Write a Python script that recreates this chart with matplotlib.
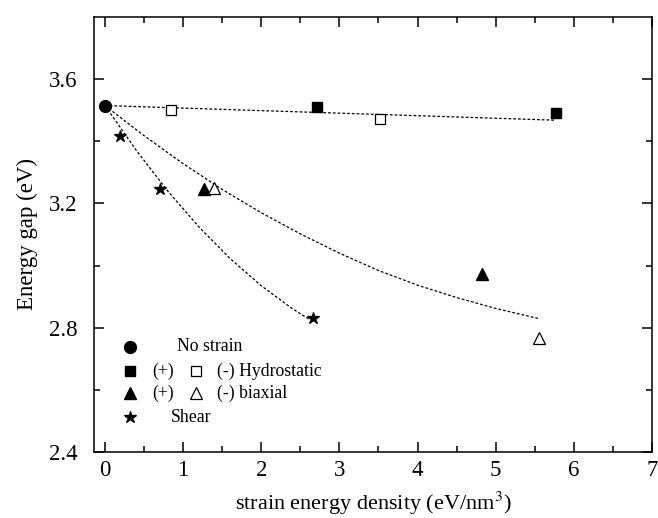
import matplotlib
matplotlib.use("Agg")
import matplotlib.pyplot as plt

plt.rcParams["font.family"] = ["Liberation Serif", "DejaVu Serif"]
plt.rcParams["mathtext.fontset"] = "stix"

# measured points (strain energy density, energy gap)
nostrain_x = [0.0]
nostrain_y = [3.515]
hydro_pos_x = [2.71, 5.77]
hydro_pos_y = [3.51, 3.49]
hydro_neg_x = [0.84, 3.52]
hydro_neg_y = [3.50, 3.471]
biax_pos_x = [1.27, 4.82]
biax_pos_y = [3.248, 2.974]
biax_neg_x = [1.39, 5.55]
biax_neg_y = [3.25, 2.768]
shear_x = [0.19, 0.70, 2.66]
shear_y = [3.416, 3.248, 2.832]

# dashed fit curves
fit_hydro_x = [0.0, 5.75]
fit_hydro_y = [3.515, 3.468]
fit_biax_x = [0.0, 0.5, 1.0, 1.5, 2.0, 2.5, 3.0, 3.5, 4.0, 4.5, 5.0, 5.54]
fit_biax_y = [3.515, 3.418, 3.328, 3.245, 3.170, 3.102, 3.040, 2.984, 2.937, 2.897, 2.862, 2.830]
fit_shear_x = [0.0, 0.4, 0.8, 1.2, 1.6, 2.0, 2.4, 2.62]
fit_shear_y = [3.515, 3.371, 3.241, 3.125, 3.023, 2.935, 2.861, 2.826]

fig = plt.figure(figsize=(6.58, 5.18), dpi=100)
ax = fig.add_axes([0.1429, 0.1274, 0.848, 0.8398])

dash = (0, (2.2, 1.6))
for fx, fy in [(fit_hydro_x, fit_hydro_y), (fit_biax_x, fit_biax_y), (fit_shear_x, fit_shear_y)]:
    ax.plot(fx, fy, color="black", lw=0.9, linestyle=dash)

ax.plot(nostrain_x, nostrain_y, "o", color="black", ms=8.5, ls="none")
ax.plot(hydro_pos_x, hydro_pos_y, "s", color="black", ms=7, ls="none")
ax.plot(hydro_neg_x, hydro_neg_y, "s", mfc="white", mec="black", mew=0.9, ms=7, ls="none")
ax.plot(biax_pos_x, biax_pos_y, "^", color="black", ms=8, ls="none")
ax.plot(biax_neg_x, biax_neg_y, "^", mfc="white", mec="black", mew=0.9, ms=8, ls="none")
ax.plot(shear_x, shear_y, "*", color="black", ms=9, ls="none")

ax.set_xlim(-0.14, 7)
ax.set_ylim(2.4, 3.8)
ax.set_xticks(range(0, 8))
ax.set_xticks([i + 0.5 for i in range(7)], minor=True)
ax.set_yticks([2.4, 2.8, 3.2, 3.6])
ax.set_yticks([2.6, 3.0, 3.4], minor=True)
ax.tick_params(which="both", direction="in", top=True, right=True, width=1.1, labelsize=16.5)
ax.tick_params(which="major", length=7)
ax.tick_params(which="minor", length=4)
ax.tick_params(axis="x", pad=6)
ax.tick_params(axis="y", pad=12)
for s in ax.spines.values():
    s.set_linewidth(1.1)

ax.set_xlabel("strain energy density (eV/nm$^3$)", fontsize=16, labelpad=6)
ax.set_ylabel("Energy gap (eV)", fontsize=16.5, labelpad=8)

# hand-made legend
tr = ax.transAxes
rows_y = [0.242, 0.186, 0.135, 0.080]
lx1, lx2 = 0.064, 0.182
fs = 12.8
ax.plot([lx1], [rows_y[0]], "o", color="black", ms=8.5, transform=tr)
ax.text(0.149, rows_y[0], "No strain", transform=tr, fontsize=fs, va="center")
ax.plot([lx1], [rows_y[1]], "s", color="black", ms=7, transform=tr)
ax.text(0.105, rows_y[1], "(+)", transform=tr, fontsize=fs, va="center")
ax.plot([lx2], [rows_y[1]], "s", mfc="white", mec="black", mew=0.9, ms=7, transform=tr)
ax.text(0.221, rows_y[1], "(-) Hydrostatic", transform=tr, fontsize=fs, va="center")
ax.plot([lx1], [rows_y[2]], "^", color="black", ms=8, transform=tr)
ax.text(0.105, rows_y[2], "(+)", transform=tr, fontsize=fs, va="center")
ax.plot([lx2], [rows_y[2]], "^", mfc="white", mec="black", mew=0.9, ms=8, transform=tr)
ax.text(0.221, rows_y[2], "(-) biaxial", transform=tr, fontsize=fs, va="center")
ax.plot([lx1], [rows_y[3]], "*", color="black", ms=9, transform=tr)
ax.text(0.138, rows_y[3], "Shear", transform=tr, fontsize=fs, va="center")

fig.savefig("out.png", dpi=100)
